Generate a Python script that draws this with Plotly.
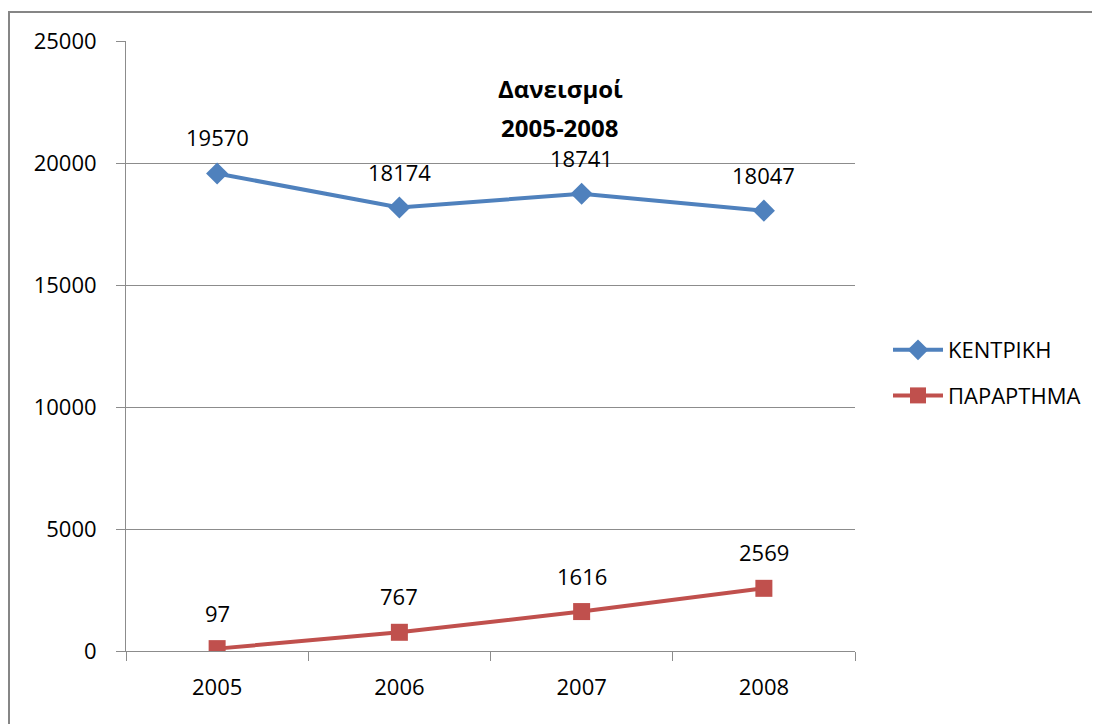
import plotly.graph_objects as go

years = ["2005", "2006", "2007", "2008"]
kentriki = [19570, 18174, 18741, 18047]
parartima = [97, 767, 1616, 2569]
series_names = ["ΚΕΝΤΡΙΚΗ", "ΠΑΡΑΡΤΗΜΑ"]
title_lines = ["Δανεισμοί", "2005-2008"]
y_ticks = [0, 5000, 10000, 15000, 20000, 25000]

W, H = 1100, 724
OFF = 8  # page body margin
L, R, T, B = 126 - OFF, 855 - OFF, 41 - OFF, 651 - OFF
FONT = "Open Sans"
GRID = "#8c8c8c"

fig = go.Figure()
fig.add_trace(go.Scatter(
    x=years, y=kentriki, name=series_names[0], mode="lines+markers",
    line=dict(color="#4F81BD", width=4),
    marker=dict(symbol="diamond", size=17, color="#4F81BD"),
    legendgroup="a",
))
fig.add_trace(go.Scatter(
    x=years, y=parartima, name=series_names[1], mode="lines+markers",
    line=dict(color="#C0504D", width=4),
    marker=dict(symbol="square", size=17, color="#C0504D"),
    legendgroup="b",
))

annotations = []
for vals in (kentriki, parartima):
    for i, v in enumerate(vals):
        annotations.append(dict(
            x=i, y=v, xref="x", yref="y", text=str(v), showarrow=False,
            yshift=36, font=dict(family=FONT, size=22, color="#000000"),
        ))

pw = R - L
ph = B - T
for j, line in enumerate(title_lines):
    yc = 88 + 39 * j - OFF
    annotations.append(dict(
        x=(560 - OFF - L) / pw, y=(B - yc) / ph, xref="paper", yref="paper",
        text="<b>" + line + "</b>", showarrow=False,
        font=dict(family=FONT, size=24, color="#000000"),
        xanchor="center", yanchor="middle",
    ))

shapes = [dict(
    type="rect", xref="paper", yref="paper",
    x0=(9 - OFF - L) / pw, x1=(1200 - L) / pw,
    y0=(B - 800) / ph, y1=(B - (12 - OFF)) / ph,
    line=dict(color="#868686", width=2), fillcolor="rgba(0,0,0,0)",
)]

fig.update_layout(
    width=W, height=H,
    margin=dict(l=L, r=W - R, t=T, b=H - B),
    paper_bgcolor="white", plot_bgcolor="white",
    font=dict(family=FONT, size=22, color="#000000"),
    showlegend=True,
    legend=dict(
        x=(888 - OFF - L) / pw, y=(B - (373 - OFF)) / ph, xanchor="left", yanchor="middle",
        font=dict(family=FONT, size=22, color="#000000"),
        tracegroupgap=14, traceorder="grouped", itemwidth=50,
        bgcolor="rgba(0,0,0,0)",
    ),
    annotations=annotations,
    shapes=shapes,
    xaxis=dict(
        type="category", range=[-0.5, 3.5], tickson="boundaries",
        ticks="outside", ticklen=9, tickcolor=GRID, tickwidth=1,
        showline=True, linecolor=GRID, linewidth=1,
        showgrid=False, zeroline=False,
        tickfont=dict(family=FONT, size=22, color="#000000"),
        ticklabelstandoff=17,
        fixedrange=True,
    ),
    yaxis=dict(
        range=[0, 25000], tickvals=y_ticks, ticktext=[str(v) for v in y_ticks],
        ticks="outside", ticklen=9, tickcolor=GRID, tickwidth=1,
        showline=True, linecolor=GRID, linewidth=1,
        showgrid=True, gridcolor=GRID, gridwidth=1, zeroline=False,
        tickfont=dict(family=FONT, size=22, color="#000000"),
        ticklabelstandoff=15,
        fixedrange=True,
    ),
)

fig.write_html("out.html")
